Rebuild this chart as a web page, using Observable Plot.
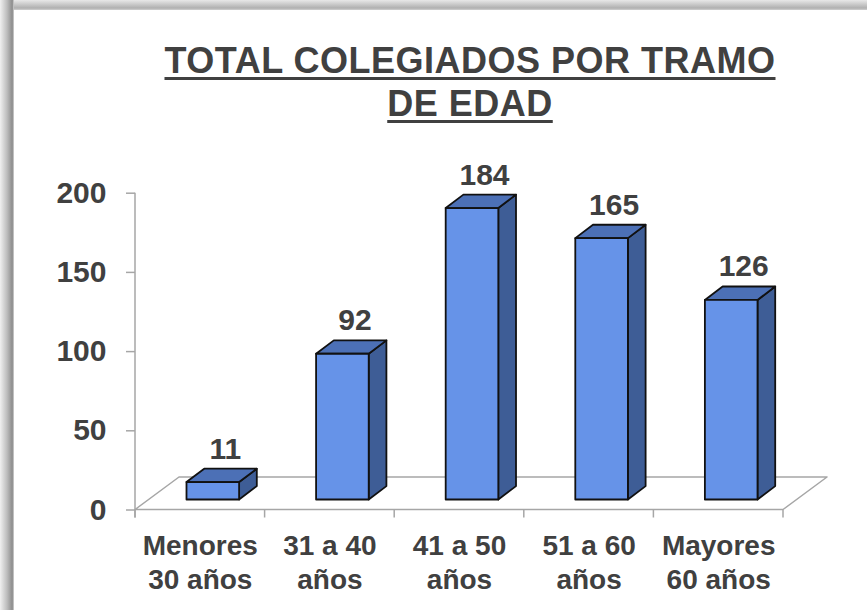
<!DOCTYPE html>
<html>
<head>
<meta charset="utf-8">
<script src="https://cdn.jsdelivr.net/npm/d3@7"></script>
<script src="https://cdn.jsdelivr.net/npm/@observablehq/plot@0.6"></script>
<style>
html,body{margin:0;padding:0;background:#fff;overflow:hidden;}
#wrap{position:relative;width:867px;height:610px;background:#fff;}
#title{position:absolute;left:73px;width:794px;top:39px;text-align:center;font-family:"Liberation Sans",Arial,sans-serif;font-weight:bold;font-size:36px;line-height:43.4px;color:#404040;letter-spacing:0.5px;}
#title span{text-decoration:underline;text-decoration-thickness:3px;text-underline-offset:4px;}
#chart{position:absolute;left:0;top:140px;}
.fr-top{position:absolute;left:0;top:0;width:867px;height:10px;background:linear-gradient(#e8e8e8,#b0b0b0 80%,#d0d0d0);}
.fr-left{position:absolute;left:0;top:0;width:14px;height:610px;background:linear-gradient(90deg,#f0f0f0,#bdbdbd 50%,#8c8c8c 88%,#d6d6d6);}
</style>
</head>
<body>
<div id="wrap">
  <div id="title"><span>TOTAL COLEGIADOS POR TRAMO</span><br><span>DE EDAD</span></div>
  <div id="chart"></div>
  <div class="fr-top"></div>
  <div class="fr-left"></div>
</div>
<script>
const categories = ["Menores\n30 años", "31 a 40\naños", "41 a 50\naños", "51 a 60\naños", "Mayores\n60 años"];
const values = [11, 92, 184, 165, 126];
const yTicks = [0, 50, 100, 150, 200];

const data = categories.map((c, i) => ({cat: c, value: values[i]}));

const TEXT = "#404040";
const GRID = "#a6a6a6";
const FRONT_OFF = [13, -10];     // front face shift inside the 3D floor
const BAR_DEPTH = [17.7, -13.4]; // depth of each bar
const FLOOR_DEPTH = [44, -32.5]; // depth of floor
const BAR_FRAC = 0.406;          // front face width as share of band

function bandInfo(scales, dims) {
  const n = categories.length;
  const x0 = dims.marginLeft, x1 = dims.width - dims.marginRight;
  const bw = typeof scales.x.bandwidth === "function" ? scales.x.bandwidth() : (x1 - x0) / n;
  return {x0, x1, bw};
}

function floorMark(index, scales, vals, dims) {
  const {x0, x1, bw} = bandInfo(scales, dims);
  const y = scales.y;
  const y0 = y(0);
  const g = d3.create("svg:g");
  const [fx, fy] = FLOOR_DEPTH;
  g.append("path")
    .attr("d", `M${x0},${y0}L${x1},${y0}L${x1 + fx},${y0 + fy}L${x0 + fx},${y0 + fy}Z`)
    .attr("fill", "white").attr("stroke", GRID).attr("stroke-width", 1.5)
    .attr("stroke-linejoin", "round");
  // vertical value axis line
  g.append("line").attr("x1", x0).attr("x2", x0)
    .attr("y1", y(d3.max(yTicks))).attr("y2", y0 + 8)
    .attr("stroke", GRID).attr("stroke-width", 1.5);
  // category boundary ticks
  const bounds = categories.map(c => scales.x(c)).concat([scales.x(categories[categories.length - 1]) + bw]);
  for (const b of bounds) {
    g.append("line").attr("x1", b).attr("x2", b).attr("y1", y0).attr("y2", y0 + 8)
      .attr("stroke", GRID).attr("stroke-width", 1.5);
  }
  return g.node();
}

function barsMark(index, scales, vals, dims) {
  const {bw} = bandInfo(scales, dims);
  const y = scales.y;
  const g = d3.create("svg:g")
    .attr("stroke", "#111").attr("stroke-width", 1.8).attr("stroke-linejoin", "round");
  const [ox, oy] = FRONT_OFF;
  const [dx, dy] = BAR_DEPTH;
  const w = bw * BAR_FRAC;
  for (const d of data) {
    const xl = scales.x(d.cat) + (bw - w) / 2 + ox;
    const xr = xl + w;
    const yb = y(0) + oy;
    const yt = y(d.value) + oy;
    // side
    g.append("path")
      .attr("d", `M${xr},${yt}L${xr + dx},${yt + dy}L${xr + dx},${yb + dy}L${xr},${yb}Z`)
      .attr("fill", "#3e5d96");
    // top
    g.append("path")
      .attr("d", `M${xl},${yt}L${xr},${yt}L${xr + dx},${yt + dy}L${xl + dx},${yt + dy}Z`)
      .attr("fill", "#4c70b6");
    // front
    g.append("rect").attr("x", xl).attr("y", yt).attr("width", w).attr("height", yb - yt)
      .attr("fill", "#6693e8");
  }
  return g.node();
}

const chart = Plot.plot({
  width: 867,
  height: 470,
  marginLeft: 135,
  marginRight: 84,
  marginTop: 52.7,
  marginBottom: 100.5,
  style: {background: "transparent", fontFamily: "'Liberation Sans', Arial, sans-serif", overflow: "visible"},
  x: {type: "band", domain: categories, padding: 0, round: false, axis: null},
  y: {domain: [0, 200], axis: null},
  marks: [
    floorMark,
    Plot.axisY({
      ticks: yTicks, tickSize: 9, tickPadding: 20, label: null,
      fontSize: 30, fontWeight: "bold", stroke: GRID, strokeWidth: 1.5, fill: TEXT,
      tickFormat: d => String(d)
    }),
    barsMark,
    Plot.text(data, {
      x: "cat", y: "value", text: d => String(d.value),
      dx: 25, dy: -34, lineAnchor: "bottom",
      fontSize: 30, fontWeight: "bold", fill: TEXT
    }),
    Plot.text(categories, {
      x: d => d, text: d => d, frameAnchor: "bottom", lineAnchor: "bottom",
      dy: 78.8, lineHeight: 1.19,
      fontSize: 28, fontWeight: "bold", fill: TEXT
    })
  ]
});
document.getElementById("chart").appendChild(chart);
</script>
</body>
</html>
